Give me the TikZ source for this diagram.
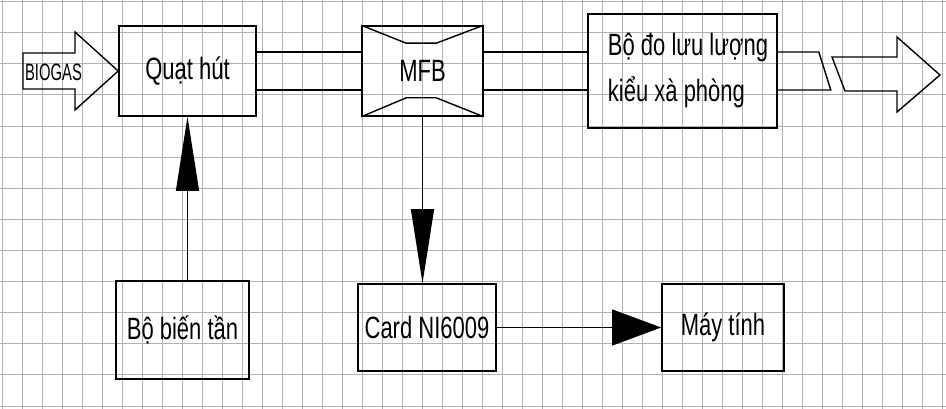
\documentclass[tikz,border=0pt]{standalone}
\usepackage{fontspec}
\setmainfont{Liberation Sans}
\usetikzlibrary{arrows.meta,calc}
\newcommand{\bgTall}[1]{\scalebox{1}[1.4]{#1}}
\newcommand{\bgSmall}[1]{\scalebox{1}[1.6]{#1}}

\begin{document}
\begin{tikzpicture}[x=1pt,y=-1pt,
  gridline/.style={draw=black!30, line width=1pt},
  blockbox/.style={draw, line width=1.6pt, inner sep=0pt, font=\fontsize{22}{26.4}\selectfont},
  pipe/.style={line width=1.4pt, line join=miter},
  wire/.style={line width=1.1pt},
  upTip/.style={-{Triangle[length=74pt,width=23pt]}},
  sideTip/.style={-{Triangle[length=49pt,width=36pt]}}]
\useasboundingbox (0,0) rectangle (946,409);
\fill[white] (0,0) rectangle (946,409);
\foreach \i in {0,...,47} \draw[gridline] (2.7+20*\i,0) -- (2.7+20*\i,409);
\foreach \j in {0,...,13} \draw[gridline] (0,1.7+31.1*\j) -- (946,1.7+31.1*\j);

\node[blockbox, minimum width=137pt, minimum height=90pt] (quat) at (187.5,71) {\bgTall{Quạt hút}};
\node[blockbox, minimum width=121pt, minimum height=90pt] (mfb) at (422.5,71) {\bgTall{MFB}};
\node[blockbox, minimum width=189pt, minimum height=114pt] (bodo) at (682.5,71) {\hspace*{11pt}\bgTall{\begin{tabular}{@{}l@{}}Bộ đo lưu lượng\\[7pt]kiểu xà phòng\end{tabular}}};
\node[blockbox, minimum width=133pt, minimum height=98pt] (bien) at (182.5,330) {\bgTall{Bộ biến tần}};
\node[blockbox, minimum width=138pt, minimum height=87pt] (card) at (427,327.5) {\bgTall{Card NI6009}};
\node[blockbox, minimum width=122pt, minimum height=87pt] (maytinh) at (723,327.5) {\bgTall{Máy tính}};

\draw[pipe] (23,53) -- (75,53) -- (75,32) -- (quat.west) -- (75,110) -- (75,89) -- (23,89) -- cycle;
\node[font=\fontsize{14.8}{17}\selectfont, inner sep=0pt] (biogas) at (53.5,72) {\bgSmall{BIOGAS}};

\draw[pipe] (mfb.north west) -- ++(45,18) -- ++(30,0) -- (mfb.north east);
\draw[pipe] (mfb.south west) -- ++(45,-19) -- ++(30,0) -- (mfb.south east);

\draw[pipe] ($(quat.east)+(0,-19)$) -- ($(mfb.west)+(0,-19)$);
\draw[pipe] ($(quat.east)+(0,19)$) -- ($(mfb.west)+(0,19)$);
\draw[pipe] ($(mfb.east)+(0,-19)$) -- ($(bodo.west)+(0,-19)$);
\draw[pipe] ($(mfb.east)+(0,19)$) -- ($(bodo.west)+(0,19)$);
\draw[pipe] ($(bodo.east)+(0,-19)$) -- ++(41,0) -- ++(12,38) -- ($(bodo.east)+(0,19)$);
\draw[pipe] (832,57) -- (897,57) -- (897,37) -- (940,75) -- (897,112) -- (897,91) -- (845,91) -- cycle;

\draw[wire, upTip] (quat.south |- bien.north) -- (quat.south);
\draw[wire, upTip] (mfb.south) -- (mfb.south |- card.north);
\draw[wire, sideTip] (card.east |- maytinh.west) -- (maytinh.west);
\end{tikzpicture}
\end{document}
